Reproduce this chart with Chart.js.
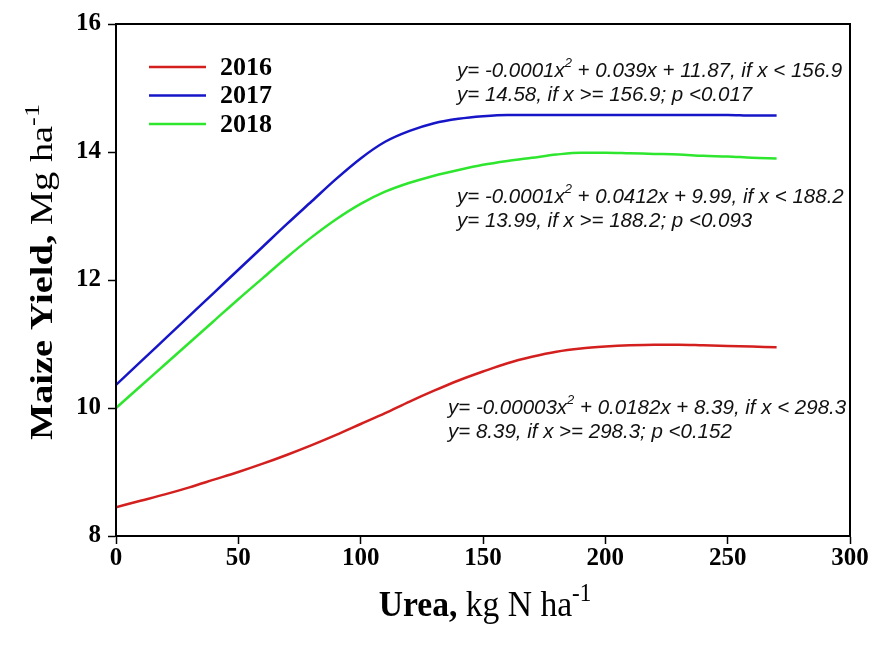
<!DOCTYPE html>
<html>
<head>
<meta charset="utf-8">
<script src="https://cdn.jsdelivr.net/npm/chart.js@4"></script>
<style>
  html, body { margin: 0; padding: 0; background: #fff; }
  canvas { display: block; }
</style>
</head>
<body>
<canvas id="yieldChart" width="875" height="648"></canvas>
<script>
// urea rate, kg N/ha, where the fitted curves are sampled
const ureaRates = [0, 10, 20, 30, 40, 50, 60, 70, 80, 90, 100, 110, 120, 130, 140,
                   150, 160, 170, 180, 190, 200, 210, 220, 230, 240, 250, 260, 270];

// maize yield, Mg/ha
const yield2016 = [8.45, 8.55, 8.65, 8.76, 8.88, 9.00, 9.13, 9.27, 9.42, 9.58, 9.75, 9.92, 10.10, 10.27,
                   10.43, 10.57, 10.70, 10.80, 10.88, 10.93, 10.96, 10.98, 10.99, 10.99, 10.98, 10.97, 10.96, 10.95];
const yield2017 = [10.36, 10.72, 11.08, 11.44, 11.80, 12.16, 12.52, 12.88, 13.23, 13.58, 13.90, 14.16, 14.33, 14.45,
                   14.52, 14.56, 14.58, 14.58, 14.58, 14.58, 14.58, 14.58, 14.58, 14.58, 14.58, 14.58, 14.57, 14.57];
const yield2018 = [10.00, 10.34, 10.68, 11.02, 11.36, 11.70, 12.03, 12.36, 12.67, 12.95, 13.19, 13.38, 13.52, 13.63,
                   13.72, 13.80, 13.86, 13.91, 13.96, 13.99, 13.99, 13.98, 13.97, 13.96, 13.94, 13.93, 13.91, 13.90];

const seasons = ['2016', '2017', '2018'];
const seasonColors = ['#d41f1f', '#1616c8', '#2ee62e'];

const xTicks = [0, 50, 100, 150, 200, 250, 300];
const yTicks = [8, 10, 12, 14, 16];

// regression equations, "^2" marks a superscript square
const fit2017 = ['y= -0.0001x^2 + 0.039x + 11.87, if x < 156.9', 'y= 14.58, if x >= 156.9; p <0.017'];
const fit2018 = ['y= -0.0001x^2 + 0.0412x + 9.99, if x < 188.2', 'y= 13.99, if x >= 188.2; p <0.093'];
const fit2016 = ['y= -0.00003x^2 + 0.0182x + 8.39, if x < 298.3', 'y= 8.39, if x >= 298.3; p <0.152'];

const SERIF = '"Liberation Serif", "Times New Roman", serif';
const SANS = '"Liberation Sans", Arial, sans-serif';

// draw a list of [text, font, rise] pieces one after another
function drawRuns(ctx, x, y, runs) {
  let cx = x;
  runs.forEach(([text, font, rise]) => {
    ctx.font = font;
    ctx.fillText(text, cx, y - (rise || 0));
    cx += ctx.measureText(text).width;
  });
}
function runsWidth(ctx, runs) {
  return runs.reduce((w, [text, font]) => { ctx.font = font; return w + ctx.measureText(text).width; }, 0);
}
function equationRuns(line) {
  const main = 'italic 20.5px ' + SANS;
  const sup = 'italic 13px ' + SANS;
  const parts = line.split('^2');
  return parts.length > 1 ? [[parts[0], main], ['2', sup, 8], [parts[1], main]] : [[line, main]];
}

const decorations = {
  id: 'decorations',
  afterDraw(chart) {
    const { ctx, chartArea: a } = chart;
    ctx.save();

    // closed frame round the plot
    ctx.strokeStyle = '#000';
    ctx.lineWidth = 2;
    ctx.strokeRect(a.left, a.top, a.right - a.left, a.bottom - a.top);

    // legend, top-left inside the plot
    ctx.fillStyle = '#000';
    ctx.textBaseline = 'middle';
    seasons.forEach((s, i) => {
      const ly = 67 + i * 28.5;
      ctx.strokeStyle = seasonColors[i];
      ctx.lineWidth = 2.5;
      ctx.beginPath();
      ctx.moveTo(149, ly);
      ctx.lineTo(206, ly);
      ctx.stroke();
      ctx.font = 'bold 26px ' + SERIF;
      ctx.fillText(s, 220, ly + 1);
    });

    // equations
    ctx.fillStyle = '#111';
    const blocks = [[fit2017, 457, 71], [fit2018, 457, 197], [fit2016, 448, 408]];
    blocks.forEach(([lines, bx, by]) => {
      lines.forEach((ln, k) => drawRuns(ctx, bx, by + k * 24, equationRuns(ln)));
    });

    // axis titles, slightly taller than wide
    ctx.fillStyle = '#000';
    ctx.textBaseline = 'alphabetic';
    const xTitle = [['Urea,', 'bold 32px ' + SERIF], [' kg N ha', '32px ' + SERIF], ['-1', '22px ' + SERIF, 13]];
    const xw = runsWidth(ctx, xTitle);
    ctx.save();
    ctx.translate((a.left + a.right) / 2 + 2, 616);
    ctx.scale(1.05, 1.15);
    drawRuns(ctx, -xw / 2, 0, xTitle);
    ctx.restore();

    const yTitle = [['Maize Yield,', 'bold 32px ' + SERIF], [' Mg ha', '32px ' + SERIF], ['-1', '22px ' + SERIF, 13]];
    const yw = runsWidth(ctx, yTitle);
    ctx.save();
    ctx.translate(52, 272);
    ctx.rotate(-Math.PI / 2);
    ctx.scale(1.2, 1.0);
    drawRuns(ctx, -yw / 2, 0, yTitle);
    ctx.restore();

    ctx.restore();
  }
};

const seriesData = [yield2016, yield2017, yield2018];
const tickFont = { family: SERIF, size: 25, weight: 'bold' };

new Chart(document.getElementById('yieldChart'), {
  type: 'line',
  data: {
    datasets: seasons.map((s, i) => ({
      label: s,
      data: ureaRates.map((u, k) => ({ x: u, y: seriesData[i][k] })),
      borderColor: seasonColors[i],
      borderWidth: 2.5,
      pointRadius: 0,
      fill: false,
      cubicInterpolationMode: 'monotone'
    }))
  },
  options: {
    responsive: false,
    animation: false,
    layout: { padding: { top: 24, right: 25, left: 0, bottom: 0 } },
    plugins: { legend: { display: false }, tooltip: { enabled: false } },
    scales: {
      x: {
        type: 'linear',
        min: 0,
        max: 300,
        afterBuildTicks: s => { s.ticks = xTicks.map(v => ({ value: v })); },
        afterFit: s => { s.height = 112; },
        grid: { drawOnChartArea: false, tickLength: 8, tickColor: '#000', tickWidth: 1.5 },
        border: { color: '#000', width: 2 },
        ticks: { color: '#000', padding: 0, maxRotation: 0, font: tickFont }
      },
      y: {
        min: 8,
        max: 16,
        afterBuildTicks: s => { s.ticks = yTicks.map(v => ({ value: v })); },
        afterFit: s => { s.width = 116; },
        grid: { drawOnChartArea: false, tickLength: 8, tickColor: '#000', tickWidth: 1.5 },
        border: { color: '#000', width: 2 },
        ticks: { color: '#000', padding: 7, font: tickFont }
      }
    }
  },
  plugins: [decorations]
});
</script>
</body>
</html>
